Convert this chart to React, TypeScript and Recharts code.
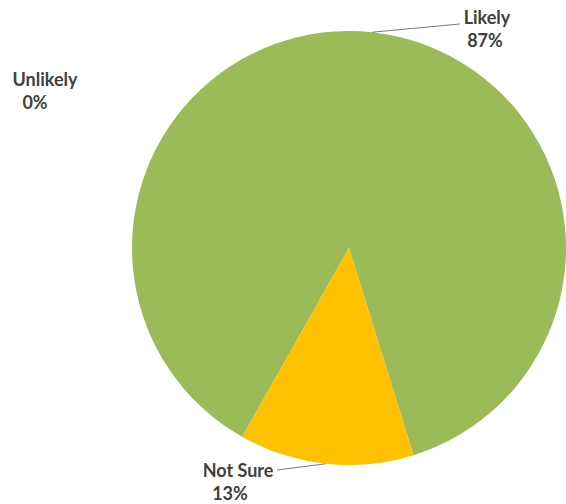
import React from "react";
import { PieChart, Pie, Cell } from "recharts";

const categories = ["Likely", "Not Sure", "Unlikely"];
const values = [87, 13, 0];
const percentLabels = ["87%", "13%", "0%"];
const colors = ["#9BBB59", "#FFC000", "#4F81BD"];

const data = categories.map((name, i) => ({ name, value: values[i], pct: percentLabels[i] }));

// label layout (text placement and leader end), by category
const labelLayout: Record<string, { x1: number; y1: number; x2: number; y2: number; lineEnd?: [number, number] }> = {
  Likely: { x1: 487, y1: 24, x2: 485, y2: 47, lineEnd: [460, 24] },
  "Not Sure": { x1: 238, y1: 477, x2: 230, y2: 500, lineEnd: [277, 470] },
  Unlikely: { x1: 45, y1: 86, x2: 35, y2: 109 },
};

const RADIAN = Math.PI / 180;

const renderLabel = (props: any) => {
  const { cx, cy, midAngle, outerRadius, name, payload } = props;
  const lay = labelLayout[name];
  if (!lay) return null;
  const sx = cx + outerRadius * Math.cos(-midAngle * RADIAN);
  const sy = cy + outerRadius * Math.sin(-midAngle * RADIAN);
  const textStyle = {
    fontFamily: "Lato, 'Open Sans', sans-serif",
    fontWeight: 700,
    fontSize: 18,
    fill: "#404040",
  } as any;
  return (
    <g>
      {lay.lineEnd && (
        <line x1={sx} y1={sy} x2={lay.lineEnd[0]} y2={lay.lineEnd[1]} stroke="#7a7a80" strokeWidth={1} />
      )}
      <text x={lay.x1} y={lay.y1} textAnchor="middle" style={textStyle}>
        {name}
      </text>
      <text x={lay.x2} y={lay.y2} textAnchor="middle" style={textStyle}>
        {payload?.pct ?? ""}
      </text>
    </g>
  );
};

export default function App() {
  return (
    <div style={{ position: "absolute", left: 0, top: 0, width: 566, height: 504, background: "#fff" }}>
      <PieChart width={566} height={504} margin={{ top: 0, right: 0, bottom: 0, left: 0 }}>
        <Pie
          data={data}
          dataKey="value"
          nameKey="name"
          cx={349}
          cy={248}
          outerRadius={217}
          startAngle={-119.5}
          endAngle={-479.5}
          stroke="none"
          isAnimationActive={false}
          label={renderLabel}
          labelLine={false}
        >
          {data.map((d, i) => (
            <Cell key={d.name} fill={colors[i]} />
          ))}
        </Pie>
      </PieChart>
    </div>
  );
}
